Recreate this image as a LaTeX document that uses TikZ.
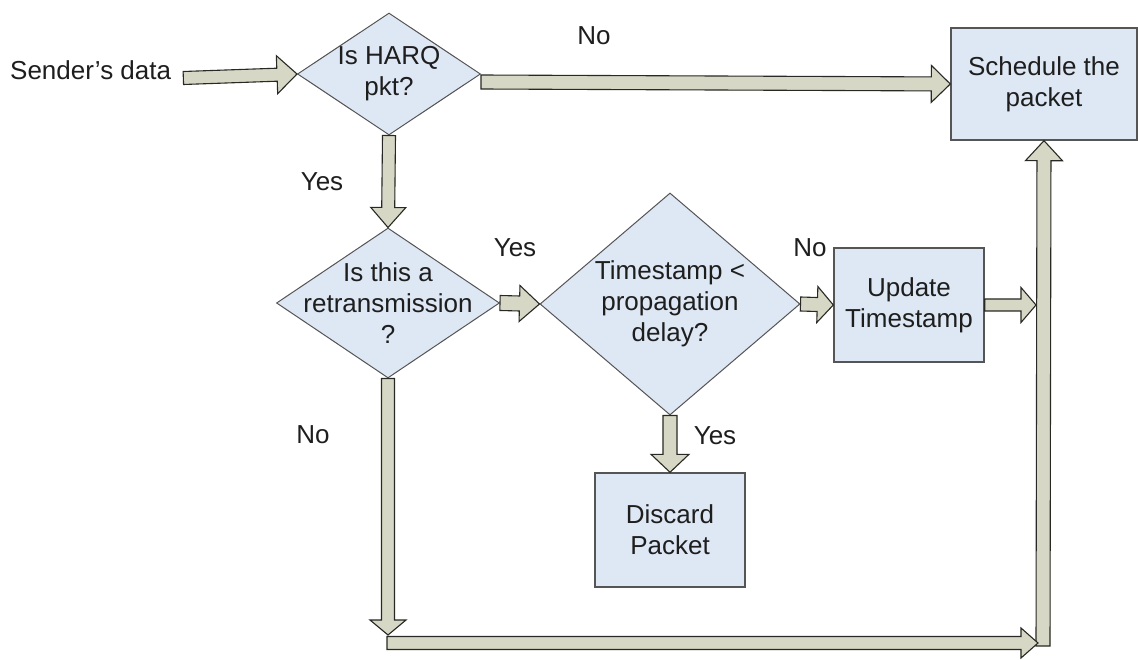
\documentclass[tikz,border=0pt]{standalone}
\usepackage{fontspec}
\setmainfont{Liberation Sans}
\usetikzlibrary{shapes.geometric,calc}

\definecolor{arrfill}{RGB}{214,215,197}
\definecolor{arrline}{RGB}{40,40,36}
\definecolor{shapefill}{RGB}{222,231,244}
\definecolor{shapeline}{RGB}{85,85,85}
\definecolor{txt}{RGB}{30,30,30}

% Block arrow from #1 to #2: shaft half-width #3, head half-width #4, head length #5
\newcommand{\blockarrow}[5]{%
  \coordinate (bahead) at ($(#2)!#5!(#1)$);
  \draw[barrow]
    ($(#1)!#3!90:(#2)$) -- ($(bahead)!#3!90:(#2)$) -- ($(bahead)!#4!90:(#2)$)
    -- (#2)
    -- ($(bahead)!#4!-90:(#2)$) -- ($(bahead)!#3!-90:(#2)$) -- ($(#1)!#3!-90:(#2)$)
    -- cycle;
}

\begin{document}
\begin{tikzpicture}[x=1pt,y=-1pt,
  font=\fontsize{26}{31}\selectfont, text=txt,
  dia/.style={diamond, draw=shapeline, fill=shapefill, line width=1pt, inner sep=0pt},
  box/.style={rectangle, draw=shapeline, fill=shapefill, line width=1.4pt,
              align=center, inner sep=0pt},
  lbl/.style={inner sep=0pt},
  barrow/.style={draw=arrline, fill=arrfill, line width=1.1pt, line join=miter}]

\useasboundingbox (0,0) rectangle (1138,660);
\fill[white] (0,0) rectangle (1138,660);

% decision and process shapes
\node[lbl, anchor=west] (sender) at (10,70) {Sender’s data};
\node[dia, minimum width=183pt, minimum height=122pt,
      label={[align=center]center:Is HARQ\\pkt?}] (d1) at (389,74) {};
\node[dia, minimum width=223pt, minimum height=150pt,
      label={[align=center]center:Is this a\\retransmission\\?}] (d2) at (388,303) {};
\node[dia, minimum width=260pt, minimum height=222pt,
      label={[align=center]center:Timestamp <\\propagation\\delay?}] (d3) at (670,304) {};
\node[box, minimum width=186pt, minimum height=112pt] (sched) at (1044,84)
      {Schedule the\\packet};
\node[box, minimum width=150pt, minimum height=114pt] (upd) at (909,305)
      {Update\\Timestamp};
\node[box, minimum width=150pt, minimum height=114pt] (disc) at (670,530)
      {Discard\\Packet};

% branch labels
\node[lbl] (lno1)  at (594,36)  {No};
\node[lbl] (lyes1) at (322,182) {Yes};
\node[lbl] (lyes2) at (515,248) {Yes};
\node[lbl] (lno2)  at (810,248) {No};
\node[lbl] (lyes3) at (715,436) {Yes};
\node[lbl] (lno3)  at (313,435) {No};

% connector end points
\coordinate (s0) at ($(sender.east)+(12,8)$);
\coordinate (n0) at ($(d1.east)+(0,8)$);
\coordinate (j1) at (1036,305);
\coordinate (c1) at (388,635);
\coordinate (r0) at (1043,646);
\coordinate (b0) at (387,643);
\coordinate (b1) at (1038,643);

% block arrows
\blockarrow{s0}{d1.west}{6.5pt}{19pt}{20pt}
\blockarrow{n0}{sched.west}{7pt}{18.5pt}{19pt}
\blockarrow{d1.south}{d2.north}{6.5pt}{17.5pt}{20pt}
\blockarrow{d2.east}{d3.west}{7.5pt}{18pt}{20pt}
\blockarrow{d3.east}{upd.west}{7pt}{18pt}{16pt}
\blockarrow{d3.south}{disc.north}{7pt}{19pt}{18pt}
\blockarrow{d2.south}{c1}{6.5pt}{18pt}{15pt}
\blockarrow{r0}{sched.south}{7pt}{18.5pt}{20pt}
\blockarrow{upd.east}{j1}{6pt}{17.5pt}{15pt}
\blockarrow{b0}{b1}{6.5pt}{15pt}{17pt}

\end{tikzpicture}
\end{document}
